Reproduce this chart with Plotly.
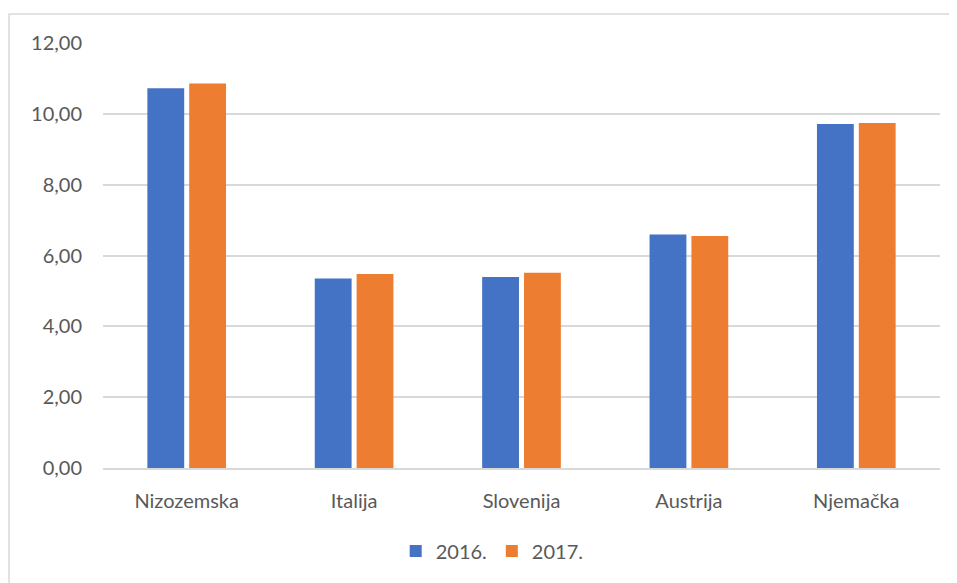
import plotly.graph_objects as go

countries = ["Nizozemska", "Italija", "Slovenija", "Austrija", "Njemačka"]
values_2016 = [10.72, 5.35, 5.39, 6.59, 9.71]
values_2017 = [10.86, 5.48, 5.51, 6.55, 9.74]
series_names = ["2016.", "2017."]

fig = go.Figure()
fig.add_trace(go.Bar(x=countries, y=values_2016, name=series_names[0],
                     marker=dict(color="#4472C4", line=dict(width=0))))
fig.add_trace(go.Bar(x=countries, y=values_2017, name=series_names[1],
                     marker=dict(color="#ED7D31", line=dict(width=0))))

font_family = "Lato, 'Open Sans', sans-serif"
plot_w, plot_h = 837, 425
fig.update_layout(
    width=949, height=575,
    margin=dict(l=95, r=17, t=35, b=115),
    plot_bgcolor="white", paper_bgcolor="white",
    barmode="group", bargap=0.5, bargroupgap=0.12,
    separators=",.",
    font=dict(family=font_family, size=20, color="#595959"),
    showlegend=True,
    legend=dict(orientation="h", x=0.465, xanchor="center", y=-0.195, yanchor="middle",
                font=dict(size=20, color="#595959"), itemwidth=30, traceorder="normal"),
    yaxis=dict(range=[0, 12], dtick=2, tickformat=".2f", showgrid=True,
               gridcolor="#D9D9D9", gridwidth=1.5, zeroline=False,
               ticklabelstandoff=20, fixedrange=True),
    xaxis=dict(showline=True, linecolor="#D9D9D9", linewidth=1.5,
               ticks="", ticklabelstandoff=14, fixedrange=True),
    shapes=[dict(type="rect", xref="paper", yref="paper",
                 x0=(1 - 95) / plot_w, x1=1.1, y0=-0.4, y1=1 + 29 / plot_h,
                 line=dict(color="#D9D9D9", width=1.5), fillcolor="rgba(0,0,0,0)",
                 layer="below")],
)

fig.write_html("out.html")
